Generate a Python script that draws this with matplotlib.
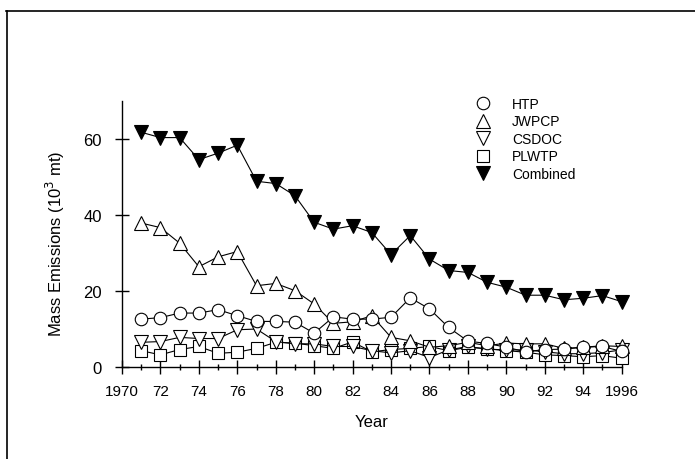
import matplotlib
matplotlib.use("Agg")
import matplotlib.pyplot as plt
from matplotlib.lines import Line2D

plt.rcParams['font.family'] = ['Liberation Sans', 'DejaVu Sans']

years = list(range(1971, 1997))

htp = [12.6, 13.0, 14.2, 14.2, 15.1, 13.5, 12.0, 12.0, 11.8, 8.9, 13.2, 12.6, 12.6,
       13.1, 18.2, 15.3, 10.4, 6.8, 6.2, 5.2, 4.0, 4.6, 4.7, 5.2, 5.4, 4.1]
jwpcp = [37.9, 36.7, 32.6, 26.4, 29.0, 30.4, 21.4, 22.0, 20.1, 16.6, 11.5, 11.9, 13.5,
         7.8, 6.9, 5.2, 5.6, 6.5, 5.6, 6.3, 6.1, 6.1, 4.9, 5.2, 5.6, 5.4]
csdoc = [6.5, 6.7, 7.8, 7.5, 7.5, 9.8, 10.0, 6.7, 6.1, 6.1, 5.4, 5.4, 4.3,
         3.7, 4.3, 2.5, 4.5, 5.4, 4.7, 4.5, 4.5, 4.0, 3.5, 3.5, 3.8, 4.5]
plwtp = [4.3, 3.2, 4.6, 5.4, 3.6, 3.9, 4.9, 6.5, 6.3, 5.6, 4.9, 6.6, 4.0,
         4.6, 4.9, 5.4, 4.3, 5.2, 4.8, 4.3, 3.9, 3.2, 3.0, 2.7, 3.0, 2.3]
combined = [61.8, 60.4, 60.4, 54.6, 56.3, 58.4, 48.9, 48.3, 45.1, 38.1, 36.3, 37.2, 35.4,
            29.6, 34.6, 28.4, 25.4, 24.9, 22.3, 21.0, 18.9, 18.9, 17.7, 18.1, 18.8, 17.2]

xticks = list(range(1970, 1997, 2))
xticklabels = ["1970", "72", "74", "76", "78", "80", "82", "84", "86", "88", "90", "92", "94", "1996"]

fig = plt.figure(figsize=(6.95, 4.60), dpi=100)
ax = fig.add_axes([0.1755, 0.2, 0.719, 0.578])

lw = 0.8
common = dict(color='black', lw=lw, markeredgecolor='black', markeredgewidth=0.8)
l_pl, = ax.plot(years, plwtp, marker='s', ms=8, mfc='white', label='PLWTP', **common)
l_cs, = ax.plot(years, csdoc, marker='v', ms=9.5, mfc='white', label='CSDOC', **common)
l_jw, = ax.plot(years, jwpcp, marker='^', ms=9.5, mfc='white', label='JWPCP', **common)
l_ht, = ax.plot(years, htp, marker='o', ms=9, mfc='white', label='HTP', **common)
l_co, = ax.plot(years, combined, marker='v', ms=9.5, mfc='black', label='Combined', **common)

ax.set_xlim(1970, 1996)
ax.set_ylim(0, 70)
ax.set_xticks(xticks)
ax.set_xticklabels(xticklabels)
ax.set_xticks(range(1970, 1997), minor=True)
ax.set_yticks([0, 20, 40, 60])
ax.tick_params(axis='both', which='major', direction='inout', length=10, width=1)
ax.tick_params(axis='x', which='major', labelsize=11, pad=7)
ax.tick_params(axis='y', which='major', labelsize=12, pad=9.5)
ax.tick_params(axis='x', which='minor', direction='inout', length=5, width=1)

for s in ['top', 'right']:
    ax.spines[s].set_visible(False)
for s in ['left', 'bottom']:
    ax.spines[s].set_linewidth(1)
for l in ax.lines:
    l.set_clip_on(False)

ax.set_xlabel("Year", fontsize=12, labelpad=12)
ax.set_ylabel("Mass Emissions (10$^3$ mt)", fontsize=12)
ax.yaxis.set_label_coords(-0.11, 0.466)

ax.legend(handles=[l_ht, l_jw, l_cs, l_pl, l_co], loc='upper left',
          bbox_to_anchor=(0.685, 0.802), bbox_transform=fig.transFigure,
          frameon=False, fontsize=10, handlelength=0, handletextpad=2.1,
          labelspacing=0.25, borderpad=0)

# outer frame lines
fig.add_artist(Line2D([0.008, 1.0], [0.974, 0.974], color='black', lw=1.2, transform=fig.transFigure))
fig.add_artist(Line2D([0.01, 0.01], [0.0, 0.974], color='black', lw=1.2, transform=fig.transFigure))

fig.savefig("out.png", dpi=100)
